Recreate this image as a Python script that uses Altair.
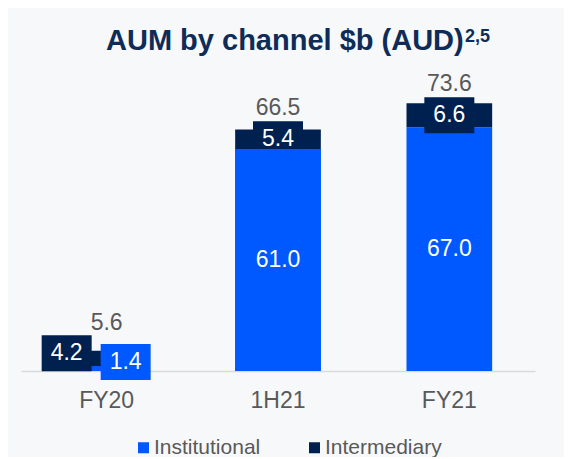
import altair as alt
import pandas as pd

periods = ["FY20", "1H21", "FY21"]
institutional = [1.4, 61.0, 67.0]
intermediary = [4.2, 5.4, 6.6]
totals = [5.6, 66.5, 73.6]
channels = ["Institutional", "Intermediary"]
title_text = "AUM by channel $b (AUD)"
title_sup = "2,5"

BLUE = "#0059ff"
NAVY = "#00214f"
GRAY = "#595959"
TITLE = "#0e2c57"
FONT = "Liberation Sans"

long_df = pd.DataFrame(
    [{"period": p, "channel": "Institutional", "value": v, "ord": 0} for p, v in zip(periods, institutional)]
    + [{"period": p, "channel": "Intermediary", "value": v, "ord": 1} for p, v in zip(periods, intermediary)]
)
wide_df = pd.DataFrame({
    "period": periods,
    "institutional": institutional,
    "intermediary": intermediary,
    "total": totals,
})

xenc = alt.X("period:N", sort=periods,
             scale=alt.Scale(paddingInner=0.5, paddingOuter=0.25),
             axis=alt.Axis(title=None, labelAngle=0, ticks=False, tickSize=0,
                           labelFontSize=23, labelColor=GRAY, labelFont=FONT,
                           labelBaseline="alphabetic", labelPadding=36,
                           domainColor="#d9d9d9", domainWidth=1.5, grid=False))
yscale = alt.Scale(domain=[0, 80])

bars = alt.Chart(long_df).mark_bar().encode(
    x=xenc,
    y=alt.Y("value:Q", stack="zero", scale=yscale, axis=None),
    color=alt.Color("channel:N", sort=channels,
                    scale=alt.Scale(domain=channels, range=[BLUE, NAVY]),
                    legend=alt.Legend(title=None, orient="none", legendX=112, legendY=357,
                                      direction="horizontal", symbolType="square",
                                      symbolSize=121, symbolStrokeWidth=0,
                                      labelFontSize=21, labelColor=GRAY, labelFont=FONT,
                                      labelOffset=0, columnPadding=43)),
    order=alt.Order("ord:Q"),
)

base = alt.Chart(wide_df).transform_calculate(
    inst_mid="datum.institutional / 2",
    int_mid="datum.institutional + datum.intermediary / 2",
)

box_shape = "M-1,-0.72L1,-0.72L1,0.72L-1,0.72Z"
HALF_BAND = 514 / 3 * 0.5 / 2

int_box = base.transform_filter("datum.period != 'FY20'").mark_point(
    shape=box_shape, filled=True, size=2500, opacity=1, color=NAVY, strokeWidth=0
).encode(x=alt.X("period:N", sort=periods), y=alt.Y("int_mid:Q", scale=yscale))

inst_over = alt.Chart(long_df).transform_filter(
    "datum.period == '1H21' && datum.channel == 'Institutional'"
).mark_bar(color=BLUE).encode(
    x=alt.X("period:N", sort=periods), y=alt.Y("value:Q", scale=yscale)
)

fy20 = base.transform_filter("datum.period == 'FY20'")
fy20_int_box = fy20.mark_point(
    shape=box_shape, filled=True, size=2500, opacity=1, color=NAVY, strokeWidth=0
).encode(x=alt.X("period:N", sort=periods), y=alt.Y("int_mid:Q", scale=yscale),
         xOffset=alt.value(HALF_BAND - 40), yOffset=alt.value(-5))
fy20_inst_box = fy20.mark_point(
    shape=box_shape, filled=True, size=2500, opacity=1, color=BLUE, strokeWidth=0
).encode(x=alt.X("period:N", sort=periods), y=alt.Y("inst_mid:Q", scale=yscale),
         xOffset=alt.value(HALF_BAND + 19), yOffset=alt.value(-6.5))

txt_kw = dict(font=FONT, fontSize=23, color="white", baseline="middle", align="center")

inst_txt = base.transform_filter("datum.period != 'FY20'").mark_text(**txt_kw).encode(
    x=alt.X("period:N", sort=periods), y=alt.Y("inst_mid:Q", scale=yscale),
    text=alt.Text("institutional:Q", format=".1f"))
int_txt = base.transform_filter("datum.period != 'FY20'").mark_text(**txt_kw).encode(
    x=alt.X("period:N", sort=periods), y=alt.Y("int_mid:Q", scale=yscale),
    text=alt.Text("intermediary:Q", format=".1f"))
fy20_int_txt = fy20.mark_text(dx=-40, dy=-5, **txt_kw).encode(
    x=alt.X("period:N", sort=periods), y=alt.Y("int_mid:Q", scale=yscale),
    text=alt.Text("intermediary:Q", format=".1f"))
fy20_inst_txt = fy20.mark_text(dx=19, dy=-6.5, **txt_kw).encode(
    x=alt.X("period:N", sort=periods), y=alt.Y("inst_mid:Q", scale=yscale),
    text=alt.Text("institutional:Q", format=".1f"))

tot_txt = base.transform_filter("datum.period != 'FY20'").mark_text(
    font=FONT, fontSize=23, color=GRAY, baseline="alphabetic", align="center", dy=-24
).encode(
    x=alt.X("period:N", sort=periods), y=alt.Y("int_mid:Q", scale=yscale),
    text=alt.Text("total:Q", format=".1f"))
tot_fy20 = fy20.mark_text(font=FONT, fontSize=23, color=GRAY, baseline="alphabetic",
                          align="center", dy=-28).encode(
    x=alt.X("period:N", sort=periods), y=alt.Y("int_mid:Q", scale=yscale),
    text=alt.Text("total:Q", format=".1f"))

title_df = pd.DataFrame({"t": [title_text], "s": [title_sup]})
title_main = alt.Chart(title_df).mark_text(
    font=FONT, fontSize=29, fontWeight="bold", color=TITLE, align="left", baseline="alphabetic"
).encode(text="t:N", x=alt.value(85), y=alt.value(-30))
title_s = alt.Chart(title_df).mark_text(
    font=FONT, fontSize=18, fontWeight="bold", color=TITLE, align="left", baseline="alphabetic"
).encode(text="s:N", x=alt.value(444), y=alt.value(-38))

chart = alt.layer(
    bars, int_box, inst_over, fy20_int_box, fy20_inst_box,
    inst_txt, int_txt, fy20_int_txt, fy20_inst_txt, tot_txt,
    tot_fy20, title_main, title_s,
).properties(
    width=514, height=291,
    autosize=alt.AutoSizeParams(type="none"),
    padding={"left": 13, "top": 72, "right": 29, "bottom": 86},
    background="#f7f8fa",
).configure_view(stroke=None)

chart.save("out.html", embed_options={"renderer": "svg", "actions": False})
